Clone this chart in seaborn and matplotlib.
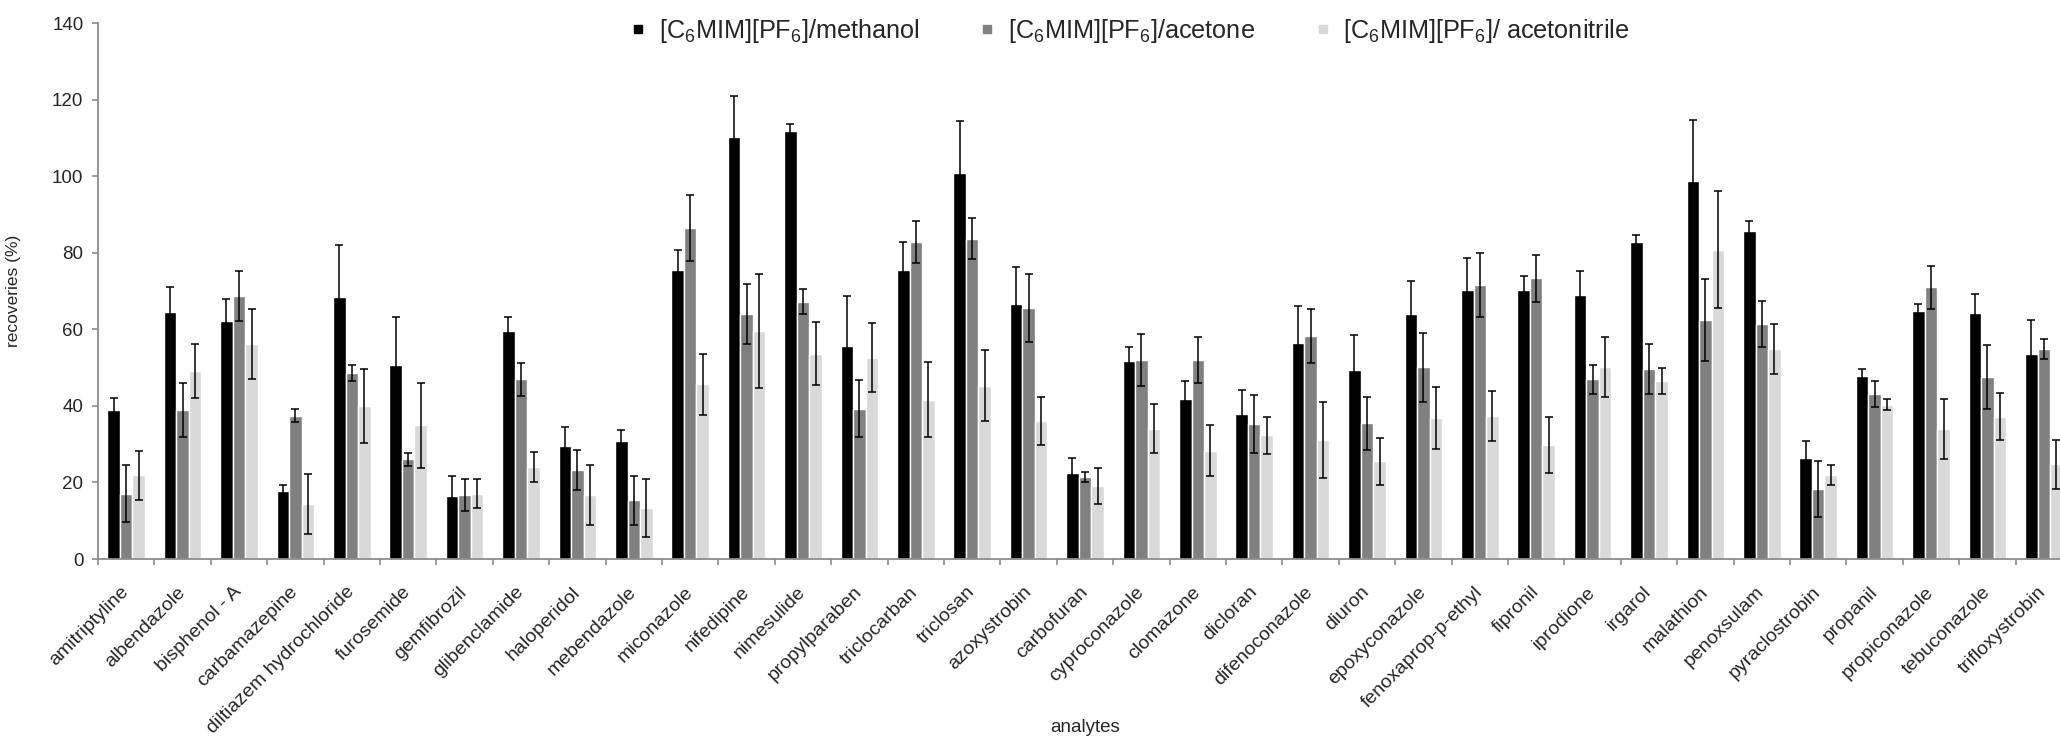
import numpy as np
import pandas as pd
import matplotlib
matplotlib.use("Agg")
import matplotlib.pyplot as plt
from matplotlib.lines import Line2D
import seaborn as sns

analytes = ["amitriptyline", "albendazole", "bisphenol - A", "carbamazepine",
            "diltiazem hydrochloride", "furosemide", "gemfibrozil", "glibenclamide",
            "haloperidol", "mebendazole", "miconazole", "nifedipine", "nimesulide",
            "propylparaben", "triclocarban", "triclosan", "azoxystrobin", "carbofuran",
            "cyproconazole", "clomazone", "dicloran", "difenoconazole", "diuron",
            "epoxyconazole", "fenoxaprop-p-ethyl", "fipronil", "iprodione", "irgarol",
            "malathion", "penoxsulam", "pyraclostrobin", "propanil", "propiconazole",
            "tebuconazole", "trifloxystrobin"]

methanol = [39.0, 64.4, 62.1, 17.8, 68.5, 50.7, 16.5, 59.5, 29.4, 30.9, 75.4, 110.3,
            111.9, 55.7, 75.4, 100.7, 66.5, 22.4, 51.7, 41.8, 38.0, 56.4, 49.4, 63.9,
            70.3, 70.3, 69.0, 82.9, 98.8, 85.8, 26.3, 47.8, 64.9, 64.3, 53.6]
methanol_err = [3.0, 6.6, 5.7, 1.5, 13.6, 12.4, 5.3, 3.6, 5.0, 2.8, 5.2, 10.6, 1.7, 12.9,
                7.4, 13.6, 9.8, 4.1, 3.7, 4.6, 6.2, 9.7, 9.1, 8.8, 8.3, 3.5, 6.3, 1.8,
                15.8, 2.4, 4.6, 1.8, 1.7, 4.9, 8.7]

acetone = [17.1, 39.0, 68.7, 37.4, 48.5, 26.0, 16.8, 46.9, 23.2, 15.4, 86.4, 63.9, 67.2,
           39.3, 82.9, 83.7, 65.6, 21.4, 52.0, 52.0, 35.2, 58.3, 35.4, 50.1, 71.6, 73.3,
           46.9, 49.6, 62.4, 61.4, 18.3, 43.1, 71.0, 47.6, 54.8]
acetone_err = [7.5, 7.1, 6.6, 1.7, 2.1, 1.6, 4.2, 4.3, 5.3, 6.4, 8.6, 7.8, 3.2, 7.5, 5.5,
               5.4, 8.8, 1.2, 6.7, 5.9, 7.6, 7.0, 7.0, 9.0, 8.4, 6.1, 3.9, 6.6, 10.7, 6.1,
               7.4, 3.5, 5.6, 8.4, 2.6]

acetonitrile = [21.9, 49.1, 56.2, 14.3, 40.0, 34.9, 17.1, 24.0, 16.8, 13.3, 45.6, 59.6,
                53.6, 52.6, 41.6, 45.3, 36.1, 19.0, 34.0, 28.3, 32.3, 31.1, 25.5, 36.8,
                37.4, 29.8, 50.1, 46.5, 80.8, 54.8, 21.9, 40.3, 34.0, 37.2, 24.7]
acetonitrile_err = [6.4, 7.1, 9.1, 7.8, 9.7, 11.2, 3.7, 4.0, 7.8, 7.5, 8.0, 14.9, 8.2, 9.0,
                    9.8, 9.3, 6.3, 4.7, 6.4, 6.6, 4.9, 10.0, 6.2, 8.0, 6.6, 7.4, 7.9, 3.3,
                    15.2, 6.5, 2.7, 1.4, 7.8, 6.1, 6.3]

series_names = [r"[C$\mathregular{_6}$MIM][PF$\mathregular{_6}$]/methanol",
                r"[C$\mathregular{_6}$MIM][PF$\mathregular{_6}$]/acetone",
                r"[C$\mathregular{_6}$MIM][PF$\mathregular{_6}$]/ acetonitrile"]
colors = ["#000000", "#808080", "#d9d9d9"]
y_ticks = [0, 20, 40, 60, 80, 100, 120, 140]

sns.set_theme(style="white")
plt.rcParams["font.family"] = ["Liberation Sans", "DejaVu Sans"]
plt.rcParams["mathtext.fontset"] = "custom"
plt.rcParams["mathtext.rm"] = "Liberation Sans"
plt.rcParams["mathtext.default"] = "regular"

all_errs = [methanol_err, acetone_err, acetonitrile_err]
df = pd.DataFrame({
    "analyte": analytes * 3,
    "value": methanol + acetone + acetonitrile,
    "series": sum([[s] * len(analytes) for s in series_names], []),
})

fig = plt.figure(figsize=(20.6, 7.44), dpi=100)
ax = fig.add_axes([98 / 2060, 185 / 744, 1974 / 2060, 536 / 744])

sns.barplot(data=df, x="analyte", y="value", hue="series", order=analytes,
            hue_order=series_names, palette=colors, saturation=1, width=0.67,
            errorbar=None, ax=ax, legend=False)

for cont, errs in zip(ax.containers, all_errs):
    xs = [p.get_x() + p.get_width() / 2 for p in cont.patches]
    ys = [p.get_height() for p in cont.patches]
    ax.errorbar(xs, ys, yerr=errs, fmt="none", ecolor="black", elinewidth=1.1,
                capsize=2.6, capthick=1.1)

ax.set_xlim(-0.5, len(analytes) - 0.5)
ax.set_ylim(0, 140)
ax.set_yticks(y_ticks)
ax.set_yticklabels([str(v) for v in y_ticks], fontsize=13.5)

for s in ["top", "right"]:
    ax.spines[s].set_visible(False)
for s in ["left", "bottom"]:
    ax.spines[s].set_color("#8c8c8c")
    ax.spines[s].set_linewidth(1.3)

ax.tick_params(axis="y", which="major", direction="out", length=4.5, width=1.2,
               color="#8c8c8c", pad=6, left=True)
ax.set_xticks(np.arange(len(analytes)))
ax.set_xticks(np.arange(len(analytes) + 1) - 0.5, minor=True)
ax.tick_params(axis="x", which="major", length=0, pad=22)
ax.tick_params(axis="x", which="minor", direction="out", length=4.5, width=1.2,
               color="#8c8c8c", bottom=True)
ax.set_xticklabels(analytes, rotation=45, ha="right", va="center",
                   rotation_mode="anchor", fontsize=14)

ax.set_ylabel("recoveries (%)", fontsize=12.5)
ax.yaxis.set_label_coords(-0.039, 0.5)
ax.set_xlabel("analytes", fontsize=13.5, va="center")
ax.xaxis.set_label_coords(0.5, -0.315)

handles = [Line2D([0], [0], marker="s", color="none", markerfacecolor=c,
                  markeredgecolor=c, markersize=6) for c in colors]
fig.legend(handles, series_names, loc="center", bbox_to_anchor=(0.548, 0.958),
           ncol=3, frameon=False, fontsize=18.2, handlelength=0.8,
           handletextpad=0.4, columnspacing=2.3)

fig.savefig("out.png", dpi=100)
